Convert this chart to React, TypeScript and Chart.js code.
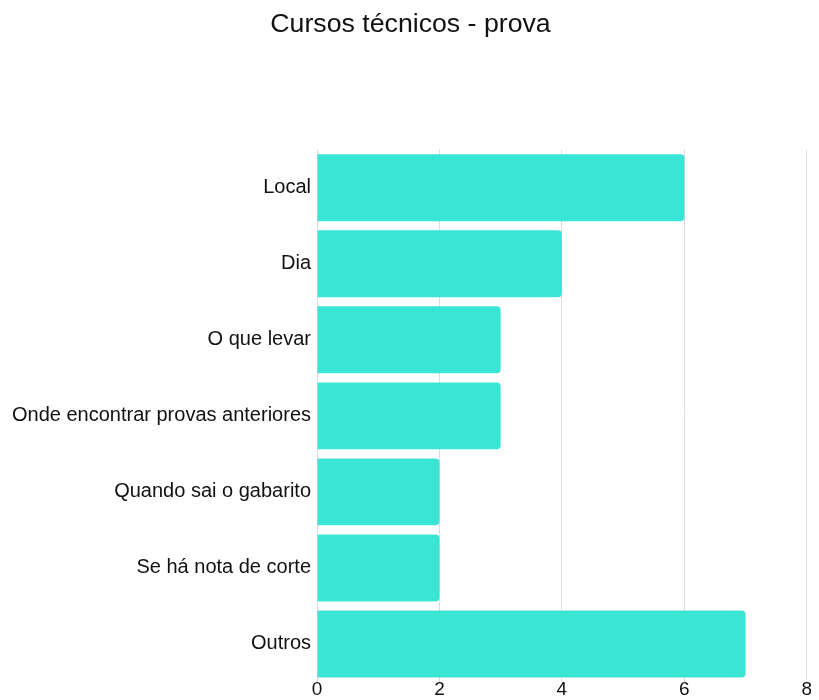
import React, { useEffect, useRef } from "react";
import { Chart, registerables } from "chart.js";

Chart.register(...registerables);

const titleText = "Cursos técnicos - prova";
const categories = [
  "Local",
  "Dia",
  "O que levar",
  "Onde encontrar provas anteriores",
  "Quando sai o gabarito",
  "Se há nota de corte",
  "Outros",
];
const values = [6, 4, 3, 3, 2, 2, 7];
const xMin = 0;
const xMax = 8;
const xStep = 2;

const FONT = "'Liberation Sans', Arial, sans-serif";

export default function App() {
  const ref = useRef<HTMLCanvasElement | null>(null);
  useEffect(() => {
    document.documentElement.style.overflow = "hidden";
    document.body.style.overflow = "hidden";
    if (!ref.current) return;
    const chart = new Chart(ref.current, {
      type: "bar",
      data: {
        labels: categories,
        datasets: [
          {
            data: values,
            backgroundColor: "#3AE5D6",
            borderRadius: 4,
            borderSkipped: "start",
            barPercentage: 0.88,
            categoryPercentage: 1,
          },
        ],
      },
      options: {
        indexAxis: "y",
        animation: false,
        responsive: true,
        maintainAspectRatio: false,
        layout: { padding: { left: 2, right: 0, top: 0, bottom: 0 } },
        plugins: {
          legend: { display: false },
          tooltip: { enabled: false },
          title: {
            display: true,
            text: titleText,
            color: "#111",
            font: { family: FONT, size: 26.7, weight: "normal", lineHeight: 1 },
            padding: { top: 3, bottom: 112 },
          },
        },
        scales: {
          x: {
            min: xMin,
            max: xMax,
            ticks: {
              stepSize: xStep,
              color: "#111",
              padding: -1,
              font: { family: FONT, size: 19, lineHeight: 0.975 },
            },
            grid: { color: "#dddddd", drawTicks: false },
            border: { display: false },
          },
          y: {
            afterFit: (scale: any) => {
              scale.width = 307;
            },
            ticks: {
              color: "#111",
              padding: 6,
              font: { family: FONT, size: 20 },
            },
            grid: { display: false, drawTicks: false },
            border: { display: false },
          },
        },
      },
    });
    return () => chart.destroy();
  }, []);
  return (
    <div style={{ height: 692, position: "relative" }}>
      <canvas ref={ref} />
    </div>
  );
}
